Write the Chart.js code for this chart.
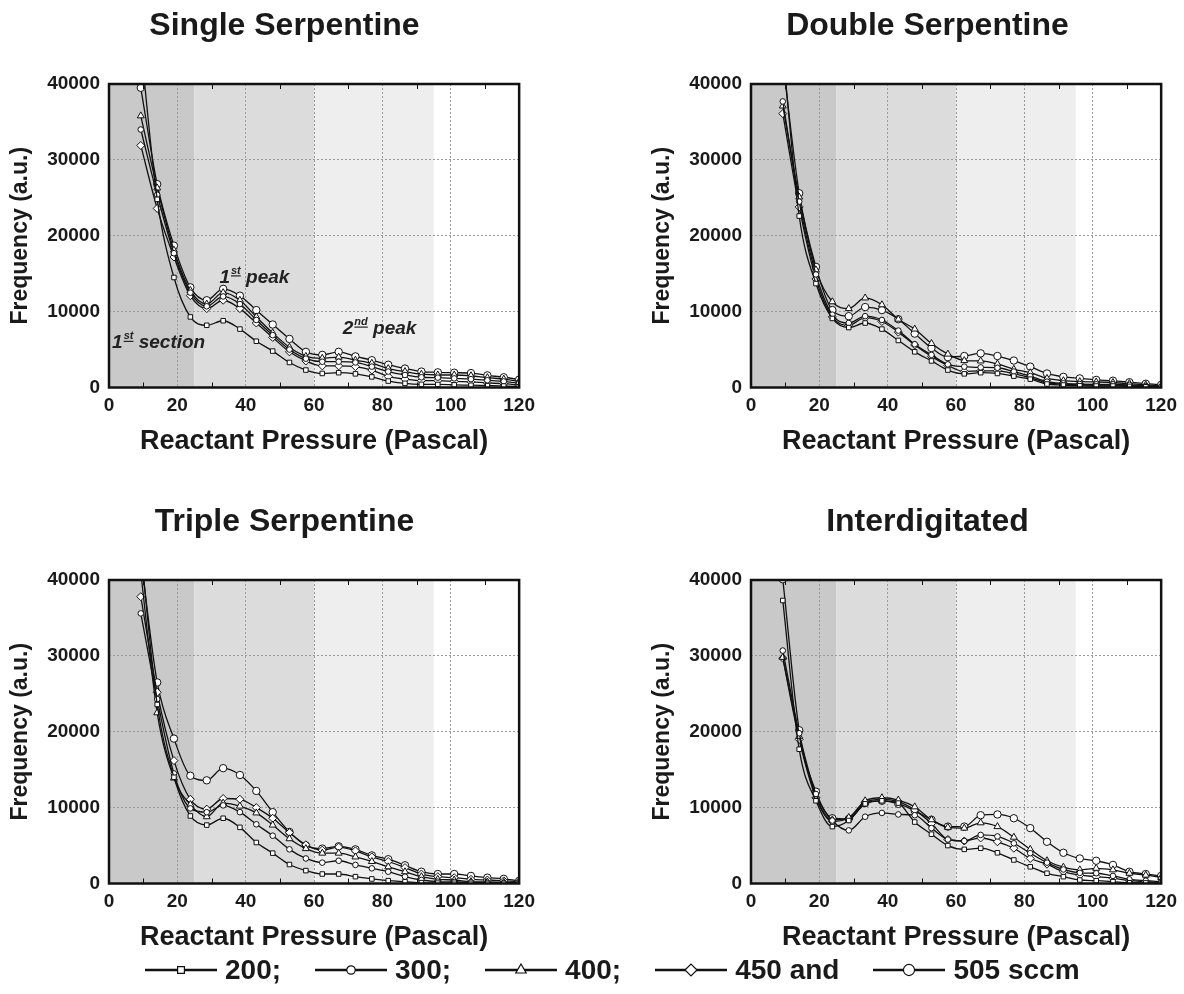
<!DOCTYPE html>
<html>
<head>
<meta charset="utf-8">
<script src="https://cdn.jsdelivr.net/npm/chart.js@4.4.1/dist/chart.umd.min.js"></script>
<style>
  body { margin: 0; background: #fff; width: 1184px; height: 994px; position: relative; overflow: hidden; }
  canvas.panel { position: absolute; }
  #legend { position: absolute; left: 128px; top: 952px; height: 36px; display: flex; align-items: center;
            font-family: "Liberation Sans", Arial, sans-serif; font-weight: bold; font-size: 28px; color: #1a1a1a; white-space: nowrap; }
  #legend .item { display: flex; align-items: center; margin: 0 17px; }
  #legend canvas { margin-right: 8px; }
</style>
</head>
<body>
<canvas id="single" class="panel" width="542" height="458" style="left:0px;top:0px"></canvas>
<canvas id="double" class="panel" width="544" height="458" style="left:640px;top:0px"></canvas>
<canvas id="triple" class="panel" width="542" height="458" style="left:0px;top:496px"></canvas>
<canvas id="inter" class="panel" width="544" height="458" style="left:640px;top:496px"></canvas>
<div id="legend"></div>

<script>
// reactant pressure (Pa) at each measurement
var pressure = [9.3, 14.1, 19.0, 23.8, 28.6, 33.4, 38.3, 43.1, 47.9, 52.8, 57.6, 62.4,
                67.2, 72.1, 76.9, 81.7, 86.6, 91.4, 96.2, 101.0, 105.9, 110.7, 115.5, 120.0];

var flows = ['200', '300', '400', '450', '505'];
var legendText = ['200;', '300;', '400;', '450 and', '505 sccm'];

// ---- Single serpentine
var single200 = [45000, 24800, 14500, 9300, 8200, 8800, 7700, 6100, 4800, 3300, 2300, 1850, 1950, 1800, 1400, 850, 550, 420, 400, 350, 300, 250, 200, 100];
var single300 = [34000, 25400, 17700, 12500, 10700, 12000, 11000, 8900, 6900, 5000, 3800, 3400, 3400, 3300, 2750, 2100, 1650, 1350, 1300, 1200, 1100, 950, 800, 550];
var single400 = [35800, 26300, 18100, 12800, 11000, 12500, 11500, 9300, 7200, 5300, 4100, 3850, 4000, 3600, 3200, 2500, 2100, 1750, 1650, 1650, 1550, 1300, 1100, 800];
var single450 = [31900, 23600, 17200, 12100, 10400, 11500, 10400, 8500, 6600, 4700, 3500, 2850, 2850, 2750, 2300, 1450, 1100, 900, 900, 800, 750, 600, 500, 300];
var single505 = [39500, 26800, 18700, 13200, 11500, 13000, 12100, 10200, 8300, 6400, 4700, 4300, 4700, 4100, 3600, 3000, 2500, 2100, 2000, 1950, 1900, 1600, 1350, 1050];

// ---- Double serpentine
var double200 = [44500, 22600, 13700, 9100, 7900, 8500, 7700, 6200, 4700, 3500, 2300, 1800, 1950, 1850, 1500, 1100, 460, 330, 240, 200, 200, 150, 100, 50];
var double300 = [37700, 24500, 14900, 9600, 8500, 9400, 8900, 7500, 5700, 4300, 3050, 2750, 2650, 2600, 2100, 1500, 770, 550, 460, 420, 420, 350, 200, 100];
var double400 = [37100, 25100, 15500, 11300, 10400, 11800, 10900, 9000, 7700, 5800, 4400, 3550, 3500, 3100, 2400, 1950, 1200, 900, 770, 730, 660, 520, 350, 200];
var double450 = [36100, 23800, 14300, 9300, 8200, 9200, 8700, 7300, 5600, 4100, 2900, 2100, 2200, 2200, 1800, 1300, 600, 450, 350, 300, 300, 250, 150, 80];
var double505 = [43000, 25600, 15900, 10200, 9400, 10600, 10200, 9000, 7100, 5200, 4000, 4150, 4500, 4150, 3550, 2750, 1850, 1400, 1200, 1000, 900, 700, 500, 350];

// ---- Triple serpentine
var triple200 = [44000, 23600, 14000, 8900, 7700, 8600, 7400, 5400, 4000, 2500, 1700, 1250, 1250, 900, 600, 370, 240, 110, 50, 30, 20, 10, 10, 0];
var triple300 = [35600, 24300, 14500, 9900, 9400, 10300, 9400, 7800, 6300, 4500, 3300, 2750, 3000, 2450, 2000, 1550, 900, 460, 240, 200, 150, 100, 80, 50];
var triple400 = [41000, 22500, 13900, 10400, 8800, 10600, 10200, 9300, 7700, 5900, 4600, 4000, 4000, 3500, 2900, 2200, 1550, 900, 550, 460, 240, 200, 150, 100];
var triple450 = [37800, 25200, 16200, 11100, 9800, 11200, 11100, 10000, 8600, 6700, 5100, 4400, 4800, 4300, 3500, 2900, 2100, 1250, 900, 770, 550, 460, 350, 240];
var triple505 = [43000, 26500, 19100, 14200, 13600, 15200, 14300, 12200, 9400, 6800, 5000, 4600, 4900, 4500, 3700, 3200, 2400, 1550, 1250, 1250, 1000, 770, 620, 350];

// ---- Interdigitated
var inter200 = [37300, 17700, 10900, 7500, 8300, 10500, 10900, 10600, 8100, 6500, 5000, 4500, 4650, 4050, 3100, 2200, 1350, 900, 460, 370, 240, 100, 80, 50];
var inter300 = [30700, 19800, 11800, 8300, 7000, 8800, 9300, 9100, 9000, 7300, 5800, 5600, 6400, 6200, 5300, 4000, 2750, 1850, 1400, 1350, 1000, 550, 370, 240];
var inter400 = [29800, 19400, 11500, 8400, 8700, 10900, 11300, 11000, 10100, 8400, 7400, 7300, 8000, 7500, 6100, 4500, 3000, 2150, 1800, 2000, 1800, 1350, 1100, 800];
var inter450 = [29700, 19000, 11300, 8200, 8600, 10700, 11100, 10800, 9700, 7900, 5800, 5600, 6000, 5500, 4650, 3300, 2550, 1550, 1100, 900, 700, 370, 240, 100];
var inter505 = [40100, 20200, 12100, 8600, 8500, 10600, 10900, 10500, 9600, 8400, 7500, 7500, 9000, 9100, 8600, 7300, 5500, 4050, 3300, 3000, 2450, 1550, 1250, 1000];

// shaded pressure ranges [from, to, colour]
var bands = [[0, 25, '#c9c9c9'], [25, 60, '#dcdcdc'], [60, 95, '#eeeeee']];

// small tick marks on the frame between the grid lines
var minorTicks = [10, 30, 50, 70, 90, 110];

// labels written inside the single serpentine plot
var notes = [
    {x: 0.9, y: 5170, lead: '1', sup: 'st', rest: ' section'},
    {x: 32.3, y: 13800, lead: '1', sup: 'st', rest: ' peak'},
    {x: 68.4, y: 7050, lead: '2', sup: 'nd', rest: ' peak'}
];

var markerStyle = ['rect', 'circle', 'triangle', 'rectRot', 'circle'];
var markerSize = [3.2, 2.8, 4, 4, 3.7];

var FONT = '"Liberation Sans", Arial, sans-serif';
var INK = '#1a1a1a';
Chart.defaults.font.family = FONT;
Chart.defaults.color = INK;

var bandsPlugin = {
    id: 'bands',
    beforeDraw: function(chart) {
        var ctx = chart.ctx, a = chart.chartArea, xs = chart.scales.x;
        ctx.save();
        bands.forEach(function(b) {
            var x1 = xs.getPixelForValue(b[0]), x2 = xs.getPixelForValue(b[1]);
            ctx.fillStyle = b[2];
            ctx.fillRect(x1, a.top, x2 - x1, a.bottom - a.top);
        });
        ctx.restore();
    }
};

var framePlugin = {
    id: 'frame',
    afterDatasetsDraw: function(chart) {
        var ctx = chart.ctx, a = chart.chartArea, xs = chart.scales.x;
        ctx.save();
        ctx.strokeStyle = '#111';
        ctx.lineWidth = 1;
        ctx.beginPath();
        minorTicks.forEach(function(v) {
            var px = Math.round(xs.getPixelForValue(v)) + 0.5;
            ctx.moveTo(px, a.top); ctx.lineTo(px, a.top + 5);
            ctx.moveTo(px, a.bottom); ctx.lineTo(px, a.bottom - 5);
        });
        ctx.stroke();
        ctx.lineWidth = 2.5;
        ctx.strokeRect(a.left, a.top, a.right - a.left, a.bottom - a.top);
        ctx.restore();
    }
};

var notesPlugin = {
    id: 'notes',
    afterDatasetsDraw: function(chart, args, opts) {
        if (!opts.items) return;
        var ctx = chart.ctx, xs = chart.scales.x, ys = chart.scales.y;
        ctx.save();
        ctx.fillStyle = '#222';
        ctx.textBaseline = 'alphabetic';
        ctx.textAlign = 'left';
        opts.items.forEach(function(n) {
            var px = xs.getPixelForValue(n.x), py = ys.getPixelForValue(n.y);
            ctx.font = 'italic bold 19px ' + FONT;
            ctx.fillText(n.lead, px, py);
            px += ctx.measureText(n.lead).width + 1;
            ctx.font = 'italic bold 11px ' + FONT;
            var w = ctx.measureText(n.sup).width;
            ctx.fillText(n.sup, px, py - 9);
            ctx.fillRect(px, py - 7.5, w, 1.2);
            px += w;
            ctx.font = 'italic bold 19px ' + FONT;
            ctx.fillText(n.rest, px, py);
        });
        ctx.restore();
    }
};

function panel(id, title, rows, padLeft, padRight, noteItems) {
    var datasets = rows.map(function(vals, i) {
        return {
            label: flows[i] + ' sccm',
            data: pressure.map(function(p, j) { return {x: p, y: vals[j]}; }),
            borderColor: '#111',
            borderWidth: 1.3,
            pointStyle: markerStyle[i],
            pointRadius: markerSize[i],
            pointBackgroundColor: '#fff',
            pointBorderColor: '#111',
            pointBorderWidth: 1,
            cubicInterpolationMode: 'monotone',
            fill: false
        };
    });

    var gridLines = { color: '#9a9a9a', lineWidth: 1, drawTicks: false };

    new Chart(document.getElementById(id), {
        type: 'line',
        data: { datasets: datasets },
        options: {
            responsive: false,
            animation: false,
            events: [],
            layout: { padding: { left: padLeft, right: padRight, top: 0, bottom: 0 } },
            plugins: {
                legend: { display: false },
                tooltip: { enabled: false },
                title: {
                    display: true, text: title, color: INK,
                    font: { size: 32, weight: 'bold' },
                    padding: { top: 7.2, bottom: 38.4 }
                },
                notes: { items: noteItems }
            },
            scales: {
                x: {
                    type: 'linear', min: 0, max: 120,
                    ticks: { stepSize: 20, padding: 7, color: INK, font: { size: 19, weight: 'bold' } },
                    grid: gridLines,
                    border: { display: false, dash: [2, 2] },
                    title: { display: true, text: 'Reactant Pressure (Pascal)', color: INK,
                             font: { size: 27, weight: 'bold' }, padding: { top: 0, bottom: 0 } },
                    afterFit: function(s) { s.height = 70.5; }
                },
                y: {
                    min: 0, max: 40000,
                    ticks: { stepSize: 10000, padding: 9, color: INK, font: { size: 19, weight: 'bold' },
                             callback: function(v) { return String(v); } },
                    grid: gridLines,
                    border: { display: false, dash: [2, 2] },
                    title: { display: true, text: 'Frequency (a.u.)', color: INK,
                             font: { size: 23, weight: 'bold' }, padding: { top: -39.8, bottom: 0 } },
                    afterFit: function(s) { s.width = 62; }
                }
            }
        },
        plugins: [bandsPlugin, framePlugin, notesPlugin]
    });
}

panel('single', 'Single Serpentine', [single200, single300, single400, single450, single505], 47, 20, notes);
panel('double', 'Double Serpentine', [double200, double300, double400, double450, double505], 49, 18, null);
panel('triple', 'Triple Serpentine', [triple200, triple300, triple400, triple450, triple505], 47, 20, null);
panel('inter', 'Interdigitated', [inter200, inter300, inter400, inter450, inter505], 49, 18, null);

// shared legend under the four plots
var legend = document.getElementById('legend');
flows.forEach(function(f, i) {
    var item = document.createElement('span');
    item.className = 'item';
    var icon = document.createElement('canvas');
    icon.width = 72; icon.height = 26;
    var c = icon.getContext('2d');
    c.strokeStyle = '#111';
    c.lineWidth = 2.4;
    c.beginPath(); c.moveTo(0, 13); c.lineTo(72, 13); c.stroke();
    c.fillStyle = '#fff';
    c.lineWidth = 1.2;
    Chart.helpers.drawPoint(c, { pointStyle: markerStyle[i], radius: markerSize[i] * 1.5, rotation: 0, borderWidth: 1.2 }, 36, 13);
    var label = document.createElement('span');
    label.textContent = legendText[i];
    item.appendChild(icon);
    item.appendChild(label);
    legend.appendChild(item);
});
</script>
</body>
</html>
